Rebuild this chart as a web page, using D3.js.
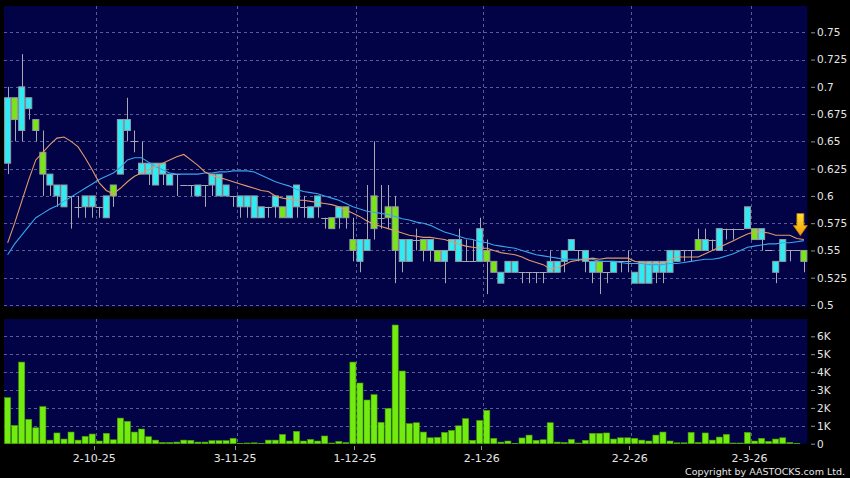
<!DOCTYPE html>
<html>
<head>
<meta charset="utf-8">
<script src="https://cdn.jsdelivr.net/npm/d3@7"></script>
<style>
  body { margin: 0; background: #000; }
  svg { display: block; font-family: "DejaVu Sans", Verdana, sans-serif; }
</style>
</head>
<body>
<svg id="chart" width="850" height="478"></svg>
<script>
// daily prices, one entry per trading day
let opens = [.69,.67,.70,.69,.66,.62,.62,.61,.61,.60, .59,.60,.60,.59,.60,.60,.67,.67,.65,.63,
  .63,.63,.63,.62,.62,.61,.61,.61,.61,.62, .62,.61,.60,.60,.60,.60,.59,.59,.60,.58,
  .60,.61,.59,.59,.60,.58,.57,.59,.58,.55, .56,.56,.57,.58,.58,.55,.56,.56,.56,.55,
  .56,.54,.55,.56,.56,.54,.54,.57,.54,.53, .53,.54,.54,.53,.53,.53,.53,.54,.54,.55,
  .56,.55,.55,.54,.53,.53,.54,.54,.54,.53, .54,.54,.54,.54,.55,.55,.55,.55,.55,.56,
  .56,.57,.57,.57,.57,.59,.56,.57,.55,.54, .56,.55,.55,.54];
let closes = [.63,.69,.66,.68,.67,.64,.61,.60,.59,.60, .59,.59,.59,.59,.58,.61,.62,.66,.65,.62,
  .62,.61,.62,.61,.62,.61,.61,.60,.61,.61, .60,.60,.60,.59,.59,.58,.58,.59,.59,.59,
  .58,.59,.59,.58,.59,.58,.58,.58,.59,.56, .54,.55,.60,.58,.59,.59,.54,.54,.56,.56,
  .55,.55,.54,.55,.54,.54,.54,.54,.55,.54, .52,.53,.53,.53,.53,.53,.53,.53,.53,.54,
  .55,.55,.54,.53,.54,.53,.53,.54,.54,.52, .52,.52,.53,.53,.53,.54,.55,.55,.56,.55,
  .56,.55,.57,.57,.57,.57,.57,.56,.55,.53, .54,.55,.55,.55];
let highs = [.70,.69,.73,.69,.67,.66,.62,.61,.61,.60, .60,.60,.60,.59,.60,.61,.67,.69,.66,.65,
  .63,.63,.63,.62,.62,.61,.61,.61,.61,.62, .62,.61,.60,.60,.60,.60,.59,.59,.60,.59,
  .60,.61,.60,.59,.60,.58,.58,.59,.59,.58, .56,.61,.65,.61,.61,.60,.56,.56,.57,.56,
  .56,.55,.55,.56,.57,.56,.56,.58,.56,.54, .53,.54,.54,.53,.53,.53,.53,.55,.54,.55,
  .56,.55,.55,.54,.54,.53,.54,.54,.55,.53, .54,.54,.54,.54,.55,.55,.55,.55,.57,.57,
  .56,.57,.57,.57,.57,.59,.57,.57,.55,.54, .56,.55,.55,.55];
let lows = [.62,.65,.65,.67,.65,.60,.60,.59,.59,.57, .58,.58,.58,.58,.58,.59,.62,.65,.64,.62,
  .61,.61,.61,.61,.60,.61,.60,.60,.59,.60, .60,.60,.59,.58,.58,.58,.58,.58,.58,.58,
  .58,.58,.58,.58,.58,.57,.57,.57,.57,.54, .53,.55,.56,.57,.57,.52,.53,.54,.55,.54,
  .54,.54,.52,.55,.54,.54,.54,.54,.51,.53, .52,.53,.53,.52,.52,.52,.52,.53,.53,.53,
  .55,.54,.53,.52,.51,.52,.53,.53,.53,.52, .52,.52,.52,.52,.53,.54,.54,.54,.55,.55,
  .55,.55,.56,.56,.57,.57,.56,.55,.55,.52, .54,.54,.55,.53];
// volume in thousands of shares
let volumes = [2.57,1.02,4.56,1.36,0.89,2.07,0.2,0.6,0.26,0.65, 0.2,0.41,0.54,0.15,0.58,0.22,1.43,1.25,0.65,0.82,
  0.39,0.2,0.07,0.07,0.09,0.2,0.19,0.09,0.09,0.17, 0.17,0.17,0.3,0.02,0.04,0.05,0.02,0.2,0.2,0.52,
  0.15,0.69,0.15,0.24,0.15,0.43,0.04,0.13,0.07,4.56, 3.39,2.44,2.74,1.19,1.97,6.63,4.06,1.12,1.17,0.65,
  0.33,0.35,0.63,0.74,1.0,1.4,0.19,1.3,1.86,0.3, 0.09,0.15,0.02,0.32,0.48,0.19,0.22,1.17,0.09,0.07,
  0.24,0.04,0.19,0.58,0.58,0.6,0.26,0.33,0.33,0.3, 0.2,0.15,0.48,0.65,0.15,0.05,0.05,0.63,0.07,0.6,
  0.2,0.37,0.52,0.04,0.04,0.63,0.15,0.3,0.13,0.26, 0.33,0.07,0.02,0];
// moving averages
let maShort = [.557,.575,.595,.615,.633,.640,.647,.653,.654,.650, .645,.635,.624,.612,.605,.602,.607,.613,.618,.621,
  .624,.627,.630,.633,.636,.638,.633,.628,.622,.619, .617,.615,.613,.611,.609,.607,.605,.604,.600,.598,
  .597,.596,.596,.595,.594,.593,.592,.590,.587,.584, .581,.577,.574,.572,.570,.568,.566,.564,.563,.562,
  .562,.561,.560,.558,.556,.554,.553,.552,.552,.550, .548,.547,.546,.544,.541,.539,.537,.533,.534,.537,
  .540,.541,.542,.543,.542,.543,.543,.543,.543,.540, .539,.538,.538,.538,.541,.544,.544,.544,.544,.547,
  .550,.553,.556,.559,.562,.565,.567,.567,.566,.564, .564,.564,.561,.560];
let maLong = [.546,.556,.564,.572,.580,.584,.588,.591,.595,.599, .603,.607,.611,.615,.618,.621,.626,.633,.635,.635,
  .631,.627,.624,.621,.620,.620,.620,.620,.621,.621, .622,.622,.623,.623,.623,.622,.619,.616,.613,.611,
  .609,.606,.604,.603,.602,.600,.598,.596,.593,.590, .588,.586,.585,.584,.583,.581,.579,.578,.576,.575,
  .573,.570,.567,.565,.563,.561,.560,.558,.557,.555, .554,.553,.552,.550,.548,.546,.545,.544,.543,.542,
  .542,.542,.542,.542,.540,.540,.540,.539,.538,.538, .538,.537,.537,.537,.538,.538,.539,.540,.541,.542,
  .542,.543,.545,.547,.550,.553,.554,.555,.556,.556, .557,.557,.558,.559];

let priceTicks = [0.5, 0.525, 0.55, 0.575, 0.6, 0.625, 0.65, 0.675, 0.7, 0.725, 0.75];
let volTicks = [0, 1, 2, 3, 4, 5, 6];
let dateIdx = [13, 33, 50, 68, 89, 106];
let dateLabels = ["2-10-25", "3-11-25", "1-12-25", "2-1-26", "2-2-26", "2-3-26"];

let svg = d3.select("#chart");
let days = d3.range(opens.length);

let x = d3.scaleBand().domain(days).range([4.1, 807.4]);
let bw = x.bandwidth();
let cx = i => x(i) + bw / 2;

let yP = d3.scaleLinear().domain([0.5, 0.75]).range([305, 32.3]);
let yV = d3.scaleLinear().domain([0, 6]).range([443.7, 336.3]);

let panelFill = "#020246";
let gridCol = "#5c5c94";

// panels
svg.append("rect").attr("x", 4).attr("y", 6).attr("width", 803.4).attr("height", 301).attr("fill", panelFill);
svg.append("rect").attr("x", 4).attr("y", 319).attr("width", 803.4).attr("height", 124.7).attr("fill", panelFill);

// grid
svg.append("g").selectAll("line")
  .data(priceTicks)
  .join("line")
  .attr("x1", 4).attr("x2", 807.4)
  .attr("y1", d => Math.round(yP(d)) + 0.5).attr("y2", d => Math.round(yP(d)) + 0.5)
  .attr("stroke", gridCol).attr("stroke-dasharray", "3,3");

svg.append("g").selectAll("line")
  .data(volTicks.slice(1))
  .join("line")
  .attr("x1", 4).attr("x2", 807.4)
  .attr("y1", d => Math.round(yV(d)) + 0.5).attr("y2", d => Math.round(yV(d)) + 0.5)
  .attr("stroke", gridCol).attr("stroke-dasharray", "3,3");

dateIdx.forEach(i => {
  let gx = Math.round(x(i)) + 0.5;
  svg.append("line").attr("x1", gx).attr("x2", gx).attr("y1", 6).attr("y2", 307)
    .attr("stroke", gridCol).attr("stroke-dasharray", "3,3");
  svg.append("line").attr("x1", gx).attr("x2", gx).attr("y1", 319).attr("y2", 443.7)
    .attr("stroke", gridCol).attr("stroke-dasharray", "3,3");
});

// volume bars
svg.append("g").selectAll("rect")
  .data(days)
  .join("rect")
  .attr("x", i => x(i) + 0.5)
  .attr("width", bw - 1)
  .attr("y", i => yV(volumes[i]))
  .attr("height", i => yV(0) - yV(volumes[i]))
  .attr("fill", "#72ec10")
  .attr("stroke", "#4aa000")
  .attr("stroke-width", 0.6);

// wicks
svg.append("g").selectAll("line")
  .data(days)
  .join("line")
  .attr("x1", i => Math.round(cx(i)) + 0.5).attr("x2", i => Math.round(cx(i)) + 0.5)
  .attr("y1", i => yP(highs[i])).attr("y2", i => yP(lows[i]))
  .attr("stroke", "#a8a8b0");

// bodies
let bodies = days.filter(i => opens[i] !== closes[i]);
svg.append("g").selectAll("rect")
  .data(bodies)
  .join("rect")
  .attr("x", i => x(i) + 0.5)
  .attr("width", bw - 1)
  .attr("y", i => yP(Math.max(opens[i], closes[i])))
  .attr("height", i => Math.abs(yP(opens[i]) - yP(closes[i])))
  .attr("fill", i => closes[i] > opens[i] ? "#78e614" : "#30ecf2")
  .attr("stroke", "#9a9aa4");

// doji
let doji = days.filter(i => opens[i] === closes[i]);
svg.append("g").selectAll("line")
  .data(doji)
  .join("line")
  .attr("x1", i => x(i)).attr("x2", i => x(i) + bw)
  .attr("y1", i => Math.round(yP(opens[i])) + 0.5).attr("y2", i => Math.round(yP(opens[i])) + 0.5)
  .attr("stroke", "#a8a8b0");

// moving averages
let maLine = arr => d3.line().x((d, i) => cx(i)).y(d => yP(d))(arr);
svg.append("path").attr("d", maLine(maLong)).attr("fill", "none").attr("stroke", "#3aa6ec").attr("stroke-width", 1.1);
svg.append("path").attr("d", maLine(maShort)).attr("fill", "none").attr("stroke", "#e29a6c").attr("stroke-width", 1.1);

// last price arrow
let grad = svg.append("defs").append("linearGradient").attr("id", "arrowGrad")
  .attr("x1", 0).attr("y1", 0).attr("x2", 0).attr("y2", 1);
grad.append("stop").attr("offset", "0%").attr("stop-color", "#ffe23a");
grad.append("stop").attr("offset", "100%").attr("stop-color", "#f29a00");
let last = opens.length - 1;
let ax = cx(last) - 3.5;
let tip = yP(maShort[last]) - 4;
svg.append("path")
  .attr("d", `M${ax - 3.5},${tip - 22} L${ax + 3.5},${tip - 22} L${ax + 3.5},${tip - 10} L${ax + 7},${tip - 10} L${ax},${tip} L${ax - 7},${tip - 10} L${ax - 3.5},${tip - 10} Z`)
  .attr("fill", "url(#arrowGrad)")
  .attr("stroke", "#b87800")
  .attr("stroke-width", 0.8);

// axes
let priceAxis = svg.append("g")
  .attr("transform", "translate(811,0)")
  .call(d3.axisRight(yP).tickValues(priceTicks).tickSize(4).tickPadding(2).tickFormat(d => String(d)));
let volAxis = svg.append("g")
  .attr("transform", "translate(811,0)")
  .call(d3.axisRight(yV).tickValues(volTicks).tickSize(4).tickPadding(2).tickFormat(d => d ? d + "K" : "0"));
[priceAxis, volAxis].forEach(a => {
  a.select(".domain").remove();
  a.selectAll("line").attr("stroke", "#9090a0");
  a.selectAll("text").attr("fill", "#e6e6e6").style("font-size", "10.5px").style("font-family", "DejaVu Sans, Verdana, sans-serif");
});

let dateAxis = svg.append("g");
dateAxis.selectAll("line")
  .data(dateIdx)
  .join("line")
  .attr("x1", i => Math.round(x(i)) - 1.5).attr("x2", i => Math.round(x(i)) - 1.5)
  .attr("y1", 446).attr("y2", 450)
  .attr("stroke", "#9090a0");
dateAxis.selectAll("text")
  .data(dateIdx)
  .join("text")
  .attr("x", i => x(i) - 1.5)
  .attr("y", 462)
  .attr("text-anchor", "middle")
  .attr("fill", "#e6e6e6")
  .style("font-size", "11px")
  .text((d, k) => dateLabels[k]);

svg.append("text")
  .attr("x", 845).attr("y", 475)
  .attr("text-anchor", "end")
  .attr("fill", "#e6e6e6")
  .style("font-size", "9.5px")
  .text("Copyright by AASTOCKS.com Ltd.");
</script>
</body>
</html>
